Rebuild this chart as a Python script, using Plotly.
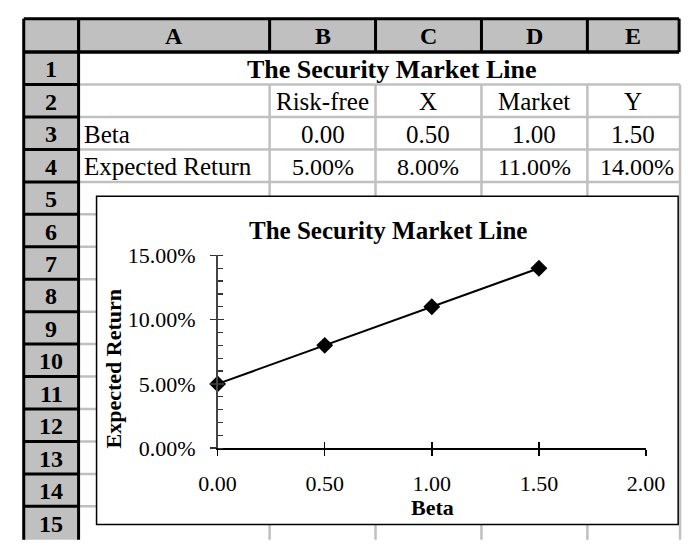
import plotly.graph_objects as go

W, H = 700, 548

# ---- data ----
title = "The Security Market Line"
assets = ["Risk-free", "X", "Market", "Y"]
betas = [0.00, 0.50, 1.00, 1.50]
exp_returns = [0.05, 0.08, 0.11, 0.14]
row_labels = ["Beta", "Expected Return"]
col_letters = ["A", "B", "C", "D", "E"]
row_numbers = list(range(1, 16))
x_ticks = [0.0, 0.5, 1.0, 1.5, 2.0]
y_ticks = [0.0, 0.05, 0.10, 0.15]

# ---- sheet geometry (pixels) ----
col_edges = [63, 265, 377, 489, 601, 698]
sheet_left = 5
header_top = 7
header_bottom = 42
row_h = 34
grid_right = 699
chart_box = (82, 193, 697, 537)
FONT = "Liberation Serif"
GRAY = "#C0C0C0"


def px(x):
    return x / W


def py(y):
    return 1 - y / H


def line(x0, y0, x1, y1, color, width):
    return dict(type="line", xref="paper", yref="paper", x0=px(x0), y0=py(y0),
                x1=px(x1), y1=py(y1), line=dict(color=color, width=width), layer="below")


def rect(x0, y0, x1, y1, fill, color=None, width=0):
    return dict(type="rect", xref="paper", yref="paper", x0=px(x0), y0=py(y0),
                x1=px(x1), y1=py(y1), fillcolor=fill,
                line=dict(color=color or fill, width=width), layer="below")


shapes = []
shapes.append(rect(sheet_left, header_top, col_edges[-1], header_bottom, GRAY))
shapes.append(rect(sheet_left, header_top, col_edges[0], H + 5, GRAY))

row_bounds = [header_bottom + k * row_h for k in range(len(row_numbers) + 1)]
for yb in row_bounds[1:-1]:
    shapes.append(line(col_edges[0], yb, grid_right, yb, GRAY, 2.5))
for xb in col_edges[1:-1] + [grid_right]:
    shapes.append(line(xb, row_bounds[1], xb, H + 5, GRAY, 2.5))
cx0, cy0, cx1, cy1 = chart_box
shapes.append(rect(cx0, cy0, cx1, cy1, "white", "black", 1.5))
shapes.append(line(sheet_left, header_top, col_edges[-1], header_top, "black", 3))
shapes.append(line(sheet_left, header_bottom, col_edges[-1], header_bottom, "black", 3.5))
shapes.append(line(sheet_left, header_top, sheet_left, H + 5, "black", 3))
for xb in col_edges:
    shapes.append(line(xb, header_top, xb, header_bottom, "black", 3))
shapes.append(line(col_edges[0], header_top, col_edges[0], H + 5, "black", 3))
for yb in row_bounds[1:-1]:
    shapes.append(line(sheet_left, yb, col_edges[0], yb, "black", 3))

annotations = []


def text(x, y, s, size=22, bold=False, xanchor="center", angle=0):
    annotations.append(dict(xref="paper", yref="paper", x=px(x), y=py(y), text=s,
                            showarrow=False, xanchor=xanchor, yanchor="middle",
                            textangle=angle,
                            font=dict(family=FONT, size=size, color="black",
                                      weight="bold" if bold else "normal")))


col_centers = [(col_edges[i] + col_edges[i + 1]) / 2 for i in range(len(col_letters))]
for letter, xc in zip(col_letters, col_centers):
    text(xc, (header_top + header_bottom) / 2 + 1, letter, 24, True)
for i, n in enumerate(row_numbers):
    text((sheet_left + col_edges[0]) / 2, row_bounds[i] + row_h / 2 + 1, str(n), 24, True)


def row_c(r):
    return row_bounds[r - 1] + row_h / 2 + 1


text(394, row_c(1), title, 26, True)
for name, xc in zip(assets, col_centers[1:]):
    text(xc, row_c(2), name, 25)
text(67, row_c(3), row_labels[0], 25, xanchor="left")
for b, xc in zip(betas, col_centers[1:]):
    text(xc, row_c(3), f"{b:.2f}", 25)
text(67, row_c(4), row_labels[1], 25, xanchor="left")
for r, xc in zip(exp_returns, col_centers[1:]):
    text(xc + (4 if r == exp_returns[-1] else 0), row_c(4), f"{r * 100:.2f}%", 24)

text((cx0 + cx1) / 2 + 1, 229, title, 25, True)
text(437, 519, "Beta", 22, True)
text(100, 374, "Expected Return", 22, True, angle=-90)

x_dom = [px(210), px(663)]
y_dom = [py(457), py(255)]

fig = go.Figure()
fig.add_trace(go.Scatter(x=betas, y=exp_returns, mode="lines+markers",
                         line=dict(color="black", width=2),
                         marker=dict(symbol="diamond", size=13, color="black"),
                         showlegend=False, hoverinfo="skip", cliponaxis=False))
fig.add_trace(go.Scatter(x=[None], y=[None], xaxis="x2", yaxis="y2",
                         showlegend=False, hoverinfo="skip"))

tickfont = dict(family=FONT, size=22, color="black")
fig.update_layout(
    width=W, height=H, margin=dict(l=0, r=0, t=0, b=0),
    paper_bgcolor="white", plot_bgcolor="rgba(0,0,0,0)",
    shapes=shapes, annotations=annotations, showlegend=False,
    xaxis=dict(domain=x_dom, range=[0, 2], tickvals=x_ticks,
               ticktext=[f"{v:.2f}" for v in x_ticks], ticks="outside", ticklen=6,
               tickwidth=1.5, tickcolor="black", showline=True, linecolor="black",
               linewidth=1.5, showgrid=False, zeroline=False, tickfont=tickfont,
               ticklabelstandoff=9, fixedrange=True, anchor="y"),
    yaxis=dict(domain=y_dom, range=[0, 0.15], tickvals=y_ticks, tickformat=".2%",
               ticks="outside", ticklen=6, tickwidth=1.5, tickcolor="#333333",
               showline=True, linecolor="#444444", linewidth=1.5, showgrid=False,
               zeroline=False, tickfont=tickfont, ticklabelstandoff=10,
               minor=dict(ticks="inside", dtick=0.01, ticklen=5, tickwidth=1.2,
                          tickcolor="#333333", showgrid=False),
               fixedrange=True, anchor="x"),
    xaxis2=dict(domain=x_dom, range=[0, 2], overlaying="x", anchor="y2",
                tickvals=x_ticks, ticks="inside", ticklen=6, tickwidth=1.5,
                tickcolor="black", showticklabels=False, showline=False,
                showgrid=False, zeroline=False, fixedrange=True),
    yaxis2=dict(domain=y_dom, range=[0, 0.15], overlaying="y", anchor="x2",
                tickvals=y_ticks, ticks="inside", ticklen=6, tickwidth=1.5,
                tickcolor="#333333", showticklabels=False, showline=False,
                showgrid=False, zeroline=False, fixedrange=True),
)

fig.write_html("out.html", config={"displayModeBar": False, "staticPlot": True},
               post_script="document.body.style.margin='0';document.body.style.overflow='hidden';")
